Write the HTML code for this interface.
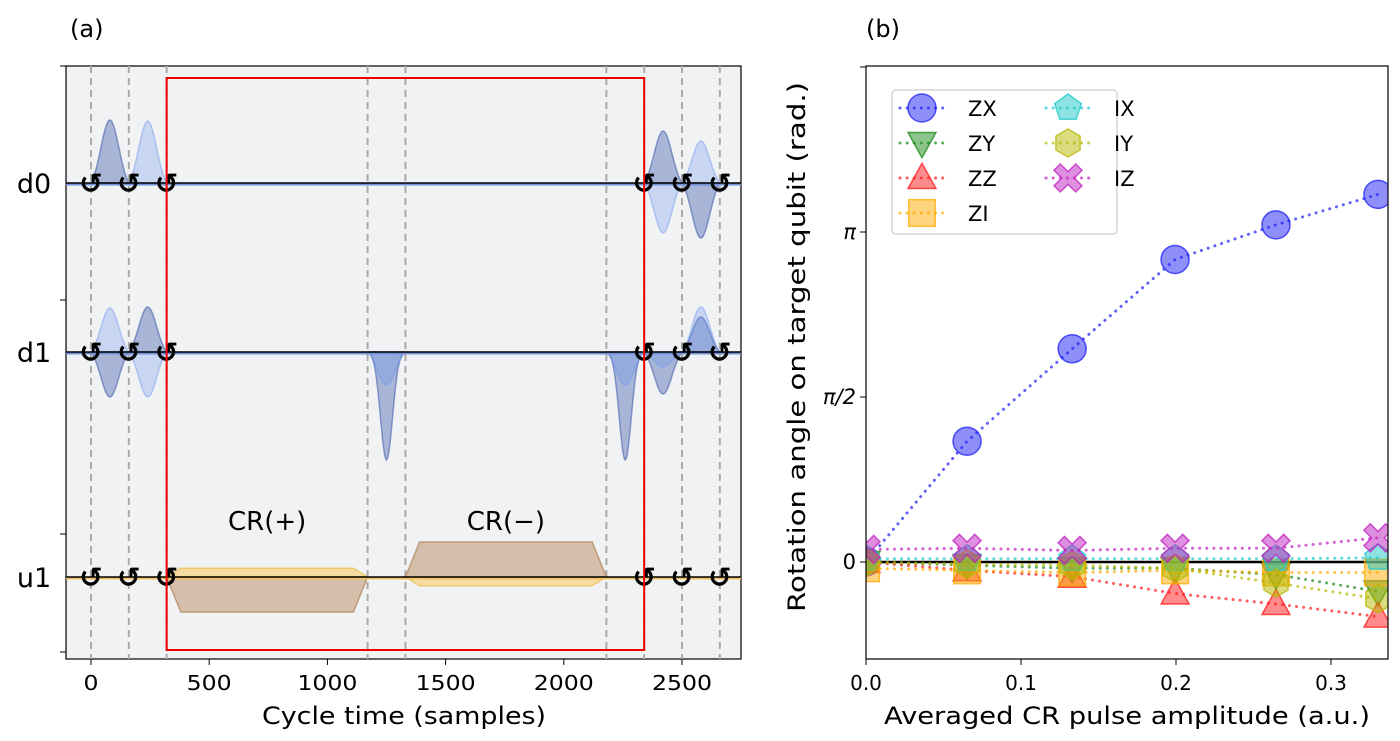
<!DOCTYPE html>
<html><head><meta charset="utf-8">
<style>
html,body{margin:0;padding:0;background:#fff;}
svg{display:block;font-family:"DejaVu Sans","Liberation Sans",sans-serif;}
</style></head>
<body>
<svg id="fig" width="1400" height="741" viewBox="0 0 1400 741">
<g id="left"></g>
<g id="right"></g>
</svg>
<script>
// ---------- data ----------
const ampCats = [0.0, 0.0652, 0.133, 0.1994, 0.2645, 0.3303];
const ZX = [0.0, 1.15, 2.03, 2.88, 3.21, 3.50];
const ZY = [0.0, -0.03, -0.06, -0.06, -0.12, -0.28];
const ZZ = [0.0, -0.08, -0.14, -0.30, -0.40, -0.52];
const ZI = [-0.06, -0.08, -0.10, -0.08, -0.10, -0.10];
const IX = [0.03, 0.03, 0.03, 0.03, 0.03, 0.04];
const IY = [0.0, -0.02, -0.03, -0.06, -0.20, -0.35];
const IZ = [0.12, 0.13, 0.11, 0.13, 0.13, 0.23];
const xTickLabels = ["0.0","0.1","0.2","0.3"];
const xTickVals = [0,0.1,0.2,0.3];
const yTickLabels = ["0","\u03c0/2","\u03c0"];
const yTickVals = [0, Math.PI/2, Math.PI];
const schedTicks = [0,500,1000,1500,2000,2500];
const barriers = [0,160,320,1170,1330,2180,2340,2500,2660];
const phaseTimes = [0,160,320,2340,2500,2660];
const channels = ["d0","d1","u1"];

const NS="http://www.w3.org/2000/svg";
function mk(parent,tag,attrs,text){const e=document.createElementNS(NS,tag);for(const k in attrs)e.setAttribute(k,attrs[k]);if(text!==undefined)e.textContent=text;parent.appendChild(e);return e;}

// ---------- left panel ----------
const L=document.getElementById('left');
const lx=t=>91+t*0.2364;
const chY={d0:183,d1:352,u1:577};
let bg=mk(L,'rect',{x:66,y:66,width:675,height:593,fill:'#f1f2f4',stroke:'#000','stroke-width':1.2});


barriers.forEach(t=>{
 const l=mk(L,'line',{x1:lx(t),x2:lx(t),y1:66,y2:659,stroke:'#aaa','stroke-width':2,'stroke-dasharray':'7,5'});
 
 
});
function gauss(t0,t1,y0,amp,sig){let d=`M${lx(t0)},${y0}`;for(let i=0;i<=40;i++){const t=t0+(t1-t0)*i/40;const u=(i/40-0.5)/sig;const g=(Math.exp(-u*u/2)-Math.exp(-0.125/(sig*sig)))/(1-Math.exp(-0.125/(sig*sig)));d+=` L${lx(t).toFixed(1)},${(y0-amp*g).toFixed(1)}`;}return d+` L${lx(t1)},${y0} Z`;}
const dark={fill:'rgba(60,90,170,0.4)',stroke:'rgba(60,90,170,0.55)','stroke-width':1.5};
const light={fill:'rgba(110,150,240,0.3)',stroke:'rgba(110,150,240,0.45)','stroke-width':1.5};
const pulses=[
 ['d0',0,160,63,dark],['d0',160,320,62,light],
 ['d0',2340,2500,52,dark],['d0',2340,2500,-50,light],
 ['d0',2500,2660,42,light],['d0',2500,2660,-55,dark],
 ['d1',0,160,44,light],['d1',0,160,-45,dark],
 ['d1',160,320,45,dark],['d1',160,320,-45,light],
 ['d1',1170,1330,-108,dark],['d1',1170,1330,-33,light],
 ['d1',2180,2340,-108,dark],['d1',2180,2340,-33,light],
 ['d1',2340,2500,-42,dark],['d1',2340,2500,-15,light],
 ['d1',2500,2660,35,dark],['d1',2500,2660,45,light]
];
pulses.forEach(p=>{const big=Math.abs(p[3])>100;const a=Object.assign({d:gauss(p[1],p[2],chY[p[0]],p[3],big?0.16:0.24)},p[4]);const e=mk(L,'path',a);
 
 });
function trap(t0,t1,y0,h){const r=60;return `M${lx(t0)},${y0} L${lx(t0+r)},${y0-h} L${lx(t1-r)},${y0-h} L${lx(t1)},${y0} Z`;}
[[320,1170,-35,'cr-plus-pulse'],[1330,2180,35,'cr-minus-pulse']].forEach(c=>{
 const y=mk(L,'path',{d:trap(c[0],c[1],577,-c[2]*0.25),fill:'rgba(250,200,80,0.5)',stroke:'rgba(240,190,70,0.7)','stroke-width':1.5});
 
 
 const b=mk(L,'path',{d:trap(c[0],c[1],577,c[2]),fill:'rgba(190,150,110,0.55)',stroke:'rgba(180,140,100,0.8)','stroke-width':1.5});
 
 
});
channels.forEach(c=>{
 const y=chY[c];
 mk(L,'line',{x1:66,x2:741,y1:y+1.5,y2:y+1.5,stroke:c==='u1'?'#f0c060':'#7090d8','stroke-width':2});
 const l=mk(L,'line',{x1:66,x2:741,y1:y,y2:y,stroke:'#000','stroke-width':1.4});
 
 
 const t=mk(L,'text',{x:34,y:y+10,'font-size':27,'text-anchor':'middle'},c);
 
 
 phaseTimes.forEach(pt=>{const g=mk(L,'text',{x:lx(pt),y:y+10,'font-size':28,'text-anchor':'middle','font-weight':'bold'},'\u21ba');
  
  });
});
let rr=mk(L,'rect',{x:lx(320),y:78,width:lx(2340)-lx(320),height:572,fill:'none',stroke:'#e00','stroke-width':2});


[['CR(+)',lx(745),530],['CR(\u2212)',lx(1755),530]].forEach(a=>{const t=mk(L,'text',{x:a[1],y:a[2],'font-size':26,'text-anchor':'middle'},a[0]);
 
 });
[66,300,534,652].forEach(y=>mk(L,'line',{x1:60,x2:66,y1:y,y2:y,stroke:'#000'}));
schedTicks.forEach(t=>{mk(L,'line',{x1:lx(t),x2:lx(t),y1:659,y2:665,stroke:'#000'});
 const e=mk(L,'text',{x:lx(t),y:690,'font-size':20,'text-anchor':'middle','textLength':String(t).length*15,'lengthAdjust':'spacingAndGlyphs'},t);
 
 });
let xl=mk(L,'text',{x:404,y:724,'font-size':24,'text-anchor':'middle','textLength':284,'lengthAdjust':'spacingAndGlyphs'},'Cycle time (samples)');


let pa=mk(L,'text',{x:70,y:37,'font-size':24},'(a)');



// ---------- right panel ----------
const R=document.getElementById('right');
const X0=866,X1=1388,Y0=66,Y1=659;
const xs=v=>866+v*1550;
const ys=v=>562-v*105.04;
let clip=mk(R,'clipPath',{id:'rc'});mk(clip,'rect',{x:X0,y:Y0,width:X1-X0,height:Y1-Y0});
let pb=mk(R,'text',{x:866,y:37,'font-size':24},'(b)');


const plot=mk(R,'g',{'clip-path':'url(#rc)'});
mk(plot,'line',{x1:X0,x2:X1,y1:ys(0),y2:ys(0),stroke:'#000','stroke-width':2.5});
function marker(g,type,x,y,col,s){
 const st={fill:col,'fill-opacity':0.5,stroke:col,'stroke-opacity':0.75,'stroke-width':1.5};
 let e;
 if(type==='o')e=mk(g,'circle',Object.assign({cx:x,cy:y,r:s},st));
 else if(type==='v')e=mk(g,'polygon',Object.assign({points:`${x-s},${y-s*0.75} ${x+s},${y-s*0.75} ${x},${y+s*1.05}`},st));
 else if(type==='^')e=mk(g,'polygon',Object.assign({points:`${x-s},${y+s*0.75} ${x+s},${y+s*0.75} ${x},${y-s*1.05}`},st));
 else if(type==='s')e=mk(g,'rect',Object.assign({x:x-s*0.95,y:y-s*0.95,width:s*1.9,height:s*1.9},st));
 else if(type==='p'){let p=[];for(let i=0;i<5;i++){const a=-Math.PI/2+i*2*Math.PI/5;p.push((x+s*Math.cos(a)).toFixed(1)+','+(y+s*Math.sin(a)).toFixed(1));}e=mk(g,'polygon',Object.assign({points:p.join(' ')},st));}
 else if(type==='h'){let p=[];for(let i=0;i<6;i++){const a=-Math.PI/2+i*Math.PI/3;p.push((x+s*Math.cos(a)).toFixed(1)+','+(y+s*Math.sin(a)).toFixed(1));}e=mk(g,'polygon',Object.assign({points:p.join(' ')},st));}
 else if(type==='X'){const a=s*0.45,b=s;const pts=[[-b+a,-b],[0,-a],[b-a,-b],[b,-b+a],[a,0],[b,b-a],[b-a,b],[0,a],[-b+a,b],[-b,b-a],[-a,0],[-b,-b+a]];e=mk(g,'polygon',Object.assign({points:pts.map(q=>(x+q[0])+','+(y+q[1])).join(' ')},st));}
 return e;
}
const series=[
 ['ZX',ZX,'#1f1ff5','o'],['ZY',ZY,'#1a8a1a','v'],['ZZ',ZZ,'#ff1a1a','^'],['ZI',ZI,'#ffaa00','s'],
 ['IX',IX,'#1cc8c8','p'],['IY',IY,'#b8b800','h'],['IZ',IZ,'#c020c0','X']];
const dots={'stroke-width':3,'stroke-dasharray':'0.1,7','stroke-linecap':'round','stroke-opacity':0.7,fill:'none'};
series.forEach(s=>{
 const g=mk(plot,'g',{});
 
 
 const pts=ampCats.map((a,i)=>xs(a).toFixed(1)+','+ys(s[1][i]).toFixed(1)).join(' ');
 mk(g,'polyline',Object.assign({points:pts,stroke:s[2]},dots));
 ampCats.forEach((a,i)=>{const m=marker(g,s[3],xs(a),ys(s[1][i]),s[2],14);
  
  });
});
let fr=mk(R,'rect',{x:X0,y:Y0,width:X1-X0,height:Y1-Y0,fill:'none',stroke:'#000','stroke-width':1.2});


xTickVals.forEach((v,i)=>{mk(R,'line',{x1:xs(v),x2:xs(v),y1:Y1,y2:Y1+6,stroke:'#000'});
 const t=mk(R,'text',{x:xs(v),y:690,'font-size':20,'text-anchor':'middle'},xTickLabels[i]);
 
 });
yTickVals.forEach((v,i)=>{mk(R,'line',{x1:X0-6,x2:X0,y1:ys(v),y2:ys(v),stroke:'#000'});
 const t=mk(R,'text',{x:X0-10,y:ys(v)+7,'font-size':21,'text-anchor':'end','font-style':i?'italic':'normal'},yTickLabels[i]);
 
 });
mk(R,'line',{x1:X0-6,x2:X0,y1:67,y2:67,stroke:'#000'});
let xt=mk(R,'text',{x:1127,y:724,'font-size':24,'text-anchor':'middle','textLength':486,'lengthAdjust':'spacingAndGlyphs'},'Averaged CR pulse amplitude (a.u.)');


let yt=mk(R,'text',{x:0,y:0,'font-size':24,'text-anchor':'middle','textLength':530,'lengthAdjust':'spacingAndGlyphs',transform:'translate(805,347) rotate(-90)'},'Rotation angle on target qubit (rad.)');


// legend
const lg=mk(R,'g',{});


mk(lg,'rect',{x:892,y:90,width:225,height:144,rx:4,fill:'#fff','fill-opacity':0.85,stroke:'#ccc','stroke-width':1.2});
series.forEach((s,i)=>{
 const col=i<4?0:1,row=i<4?i:i-4;
 const cx=col?1068:922,cy=108+row*35;
 const e=mk(lg,'g',{});
 
 
 mk(e,'line',Object.assign({x1:cx-22,x2:cx+22,y1:cy,y2:cy,stroke:s[2]},dots));
 marker(e,s[3],cx,cy,s[2],14);
 mk(e,'text',{x:cx+46,y:cy+8,'font-size':21},s[0]);
});
</script>
</body></html>
